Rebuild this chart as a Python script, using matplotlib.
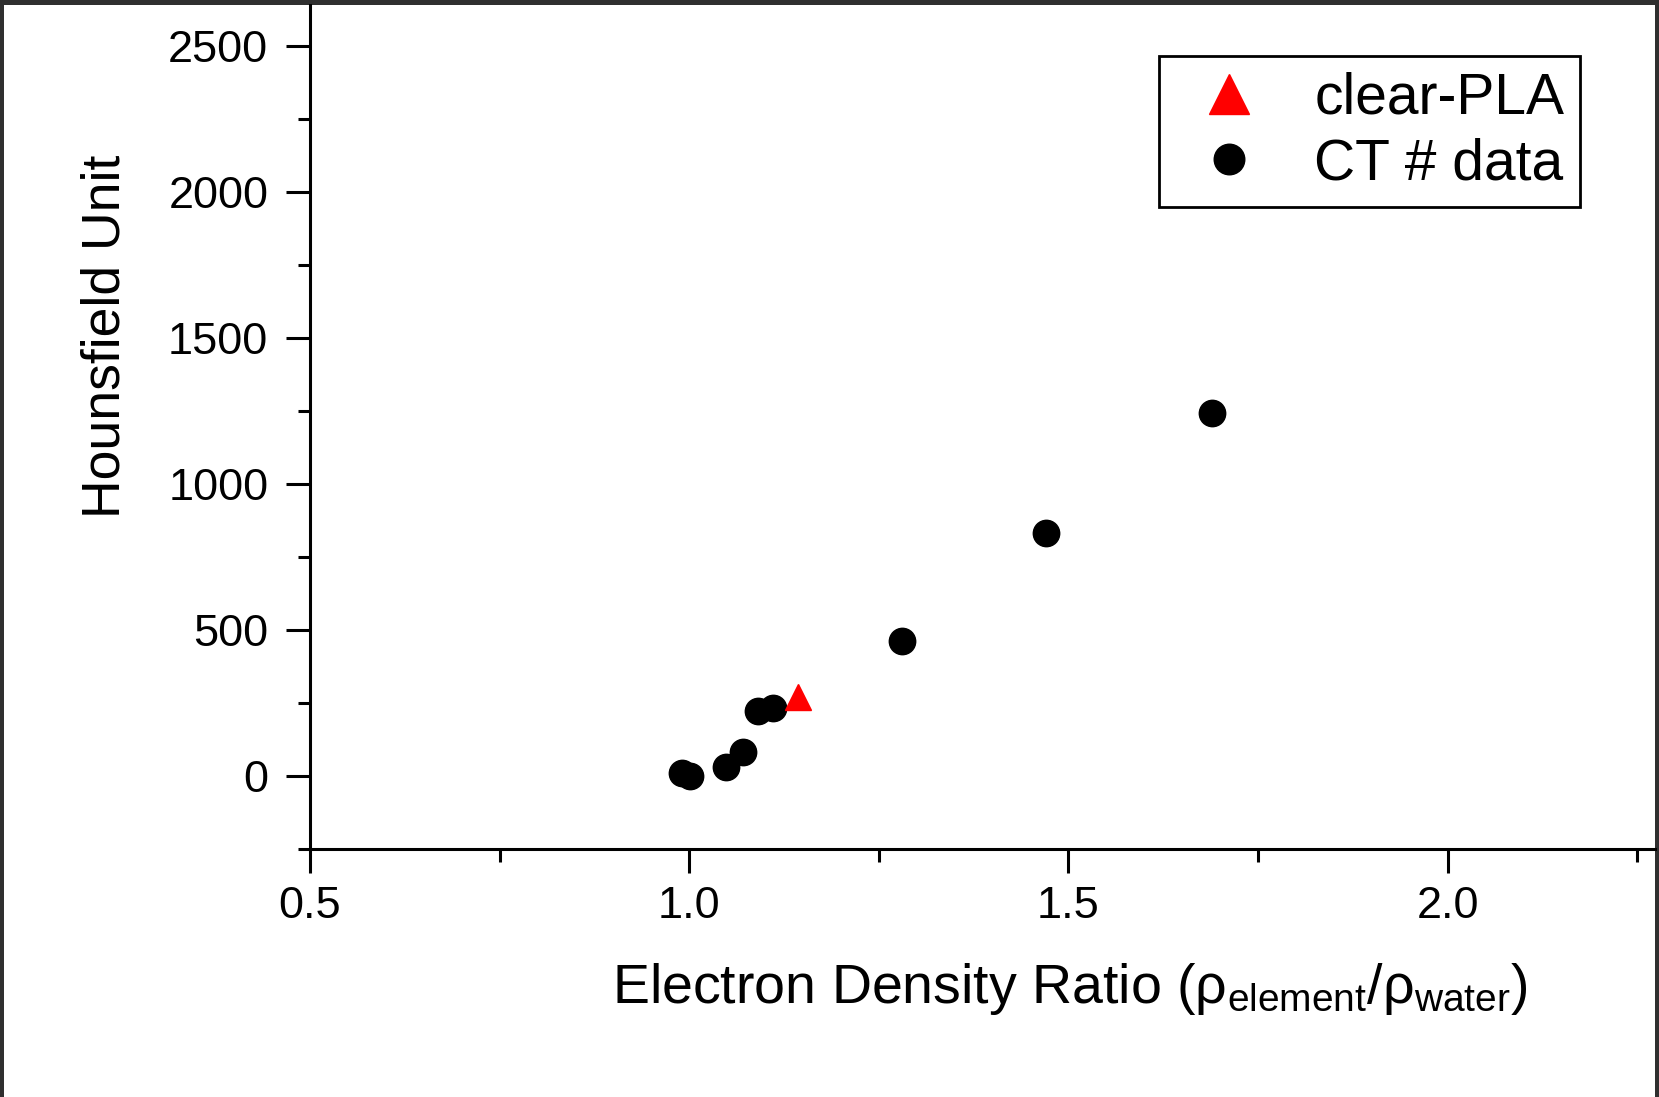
import matplotlib.pyplot as plt
from matplotlib.patches import Rectangle
from matplotlib.ticker import MultipleLocator

plt.rcParams['font.family'] = ['Liberation Sans', 'DejaVu Sans']
plt.rcParams['mathtext.default'] = 'regular'

# CT number calibration points (electron density ratio, HU)
ct_x = [0.990, 1.001, 1.049, 1.071, 1.091, 1.110, 1.280, 1.470, 1.690]
ct_y = [11, 0, 32, 83, 223, 232, 462, 831, 1244]

# clear-PLA sample
pla_x = [1.143]
pla_y = [271]

W, H = 1659, 1097
fig = plt.figure(figsize=(W / 100, H / 100), dpi=100, facecolor='#2f2f2f')
# white page inside the dark screenshot frame
fig.add_artist(Rectangle((4 / W, 0), 1651 / W, 1092 / H, transform=fig.transFigure,
                         facecolor='white', edgecolor='none', zorder=-10))

ax = fig.add_axes([310 / W, 248 / H, 1345 / W, 844 / H])
ax.set_facecolor('none')

ax.plot(pla_x, pla_y, linestyle='none', marker='^', color='red', markersize=19, label='clear-PLA', zorder=3)
ax.plot(ct_x, ct_y, linestyle='none', marker='o', color='black', markersize=19, label='CT # data', zorder=2)

ax.set_xlim(0.5, 2.2735)
ax.set_ylim(-250, 2640)
ax.xaxis.set_major_locator(MultipleLocator(0.5))
ax.xaxis.set_minor_locator(MultipleLocator(0.25))
ax.yaxis.set_major_locator(MultipleLocator(500))
ax.yaxis.set_minor_locator(MultipleLocator(250))
ax.xaxis.set_major_formatter(plt.FuncFormatter(lambda v, p: f'{v:.1f}'))
ax.yaxis.set_major_formatter(plt.FuncFormatter(lambda v, p: f'{v:.0f}'))

for s in ['top', 'right']:
    ax.spines[s].set_visible(False)
for s in ['left', 'bottom']:
    ax.spines[s].set_linewidth(2.2)

ax.tick_params(which='major', direction='out', length=17, width=2.2, labelsize=32.5)
ax.tick_params(which='minor', direction='out', length=9, width=2.2)
ax.tick_params(axis='y', which='major', pad=13)
ax.tick_params(axis='x', which='major', pad=10)

ax.set_xlabel('Electron Density Ratio (ρ$_{element}$/ρ$_{water}$)', fontsize=40)
ax.xaxis.set_label_coords(0.565, -0.133)
ax.set_ylabel('Hounsfield Unit', fontsize=38.5, va='center')
ax.yaxis.set_label_coords(-0.152, 0.608)

leg = ax.legend(loc='upper left', bbox_to_anchor=(1159 / W, 1 - 56 / H), bbox_transform=fig.transFigure,
                borderaxespad=0, fontsize=41, frameon=True, fancybox=False, edgecolor='black',
                borderpad=0.28, handlelength=1.9, handletextpad=0.55, labelspacing=0.2)
leg.get_frame().set_linewidth(2)
leg.get_frame().set_alpha(1)
leg.legend_handles[0].set_markersize(29)
leg.legend_handles[1].set_markersize(22)

fig.savefig('out.png', dpi=100, facecolor=fig.get_facecolor())
